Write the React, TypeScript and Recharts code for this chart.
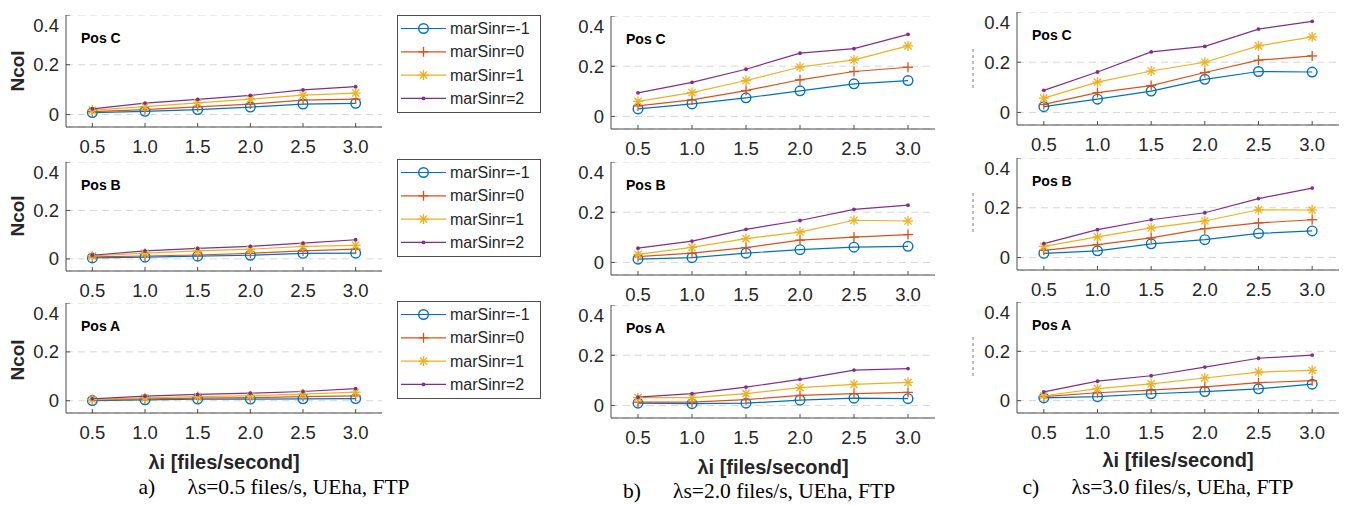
import React from "react"
import { LineChart, Line, XAxis, YAxis, CartesianGrid } from "recharts"

// x values shared by every panel
const LAMBDA_I = [0.5, 1.0, 1.5, 2.0, 2.5, 3.0]
const Y_TICKS = [0, 0.2, 0.4]
const SERIES_NAMES = ["marSinr=-1", "marSinr=0", "marSinr=1", "marSinr=2"]

// a) λs=0.5 files/s — rows: marSinr=-1, 0, 1, 2
const A_POS_C = [
  [0.008, 0.013, 0.020, 0.030, 0.042, 0.045],
  [0.012, 0.020, 0.031, 0.042, 0.058, 0.062],
  [0.018, 0.032, 0.047, 0.062, 0.078, 0.086],
  [0.023, 0.046, 0.061, 0.077, 0.099, 0.112],
]
const A_POS_B = [
  [0.004, 0.007, 0.011, 0.015, 0.023, 0.024],
  [0.008, 0.012, 0.016, 0.023, 0.033, 0.040],
  [0.012, 0.024, 0.033, 0.040, 0.052, 0.056],
  [0.015, 0.033, 0.043, 0.052, 0.065, 0.079],
]
const A_POS_A = [
  [0.001, 0.004, 0.007, 0.007, 0.008, 0.009],
  [0.004, 0.008, 0.011, 0.013, 0.017, 0.020],
  [0.005, 0.012, 0.017, 0.021, 0.027, 0.035],
  [0.008, 0.019, 0.026, 0.031, 0.038, 0.050],
]

// b) λs=2.0 files/s
const B_POS_C = [
  [0.030, 0.050, 0.074, 0.102, 0.130, 0.143],
  [0.042, 0.066, 0.103, 0.146, 0.179, 0.196],
  [0.060, 0.095, 0.143, 0.197, 0.225, 0.281],
  [0.094, 0.136, 0.188, 0.252, 0.270, 0.327],
]
const B_POS_B = [
  [0.013, 0.019, 0.037, 0.051, 0.061, 0.064],
  [0.023, 0.037, 0.059, 0.089, 0.101, 0.111],
  [0.032, 0.060, 0.095, 0.121, 0.168, 0.165],
  [0.057, 0.085, 0.132, 0.167, 0.211, 0.228],
]
const B_POS_A = [
  [0.009, 0.007, 0.009, 0.021, 0.029, 0.027],
  [0.013, 0.013, 0.023, 0.040, 0.047, 0.052],
  [0.031, 0.031, 0.047, 0.071, 0.084, 0.092],
  [0.033, 0.047, 0.073, 0.104, 0.141, 0.147],
]

// c) λs=3.0 files/s
const C_POS_C = [
  [0.023, 0.053, 0.085, 0.132, 0.163, 0.161],
  [0.032, 0.079, 0.107, 0.159, 0.208, 0.225],
  [0.057, 0.121, 0.165, 0.200, 0.265, 0.301],
  [0.088, 0.161, 0.241, 0.263, 0.332, 0.363],
]
const C_POS_B = [
  [0.017, 0.027, 0.055, 0.072, 0.097, 0.107],
  [0.029, 0.052, 0.079, 0.116, 0.139, 0.152],
  [0.045, 0.083, 0.119, 0.147, 0.192, 0.191],
  [0.056, 0.112, 0.152, 0.180, 0.237, 0.279],
]
const C_POS_A = [
  [0.011, 0.016, 0.028, 0.037, 0.048, 0.067],
  [0.016, 0.032, 0.043, 0.056, 0.073, 0.081],
  [0.020, 0.049, 0.068, 0.092, 0.116, 0.123],
  [0.036, 0.079, 0.101, 0.136, 0.172, 0.185],
]

const COLORS = ["#0072BD", "#D95319", "#EDB120", "#7E2F8E"]
const MARKERS = ["circle", "plus", "star", "dot"]

const SANS = "'Liberation Sans', Arial, sans-serif"
const SERIF = "'Liberation Serif', 'Times New Roman', serif"
const AXIS = "#4d4d4d"
const INK = "#262626"

function Marker({ kind, color, x, y }: { kind: string; color: string; x: number; y: number }) {
  if (kind === "circle")
    return <circle cx={x} cy={y} r={4.8} fill="none" stroke={color} strokeWidth={1.4} />
  if (kind === "plus")
    return (
      <g stroke={color} strokeWidth={1.3}>
        <line x1={x - 5} y1={y} x2={x + 5} y2={y} />
        <line x1={x} y1={y - 5} x2={x} y2={y + 5} />
      </g>
    )
  if (kind === "star")
    return (
      <g stroke={color} strokeWidth={1.3}>
        <line x1={x - 5} y1={y} x2={x + 5} y2={y} />
        <line x1={x} y1={y - 5} x2={x} y2={y + 5} />
        <line x1={x - 3.6} y1={y - 3.6} x2={x + 3.6} y2={y + 3.6} />
        <line x1={x - 3.6} y1={y + 3.6} x2={x + 3.6} y2={y - 3.6} />
      </g>
    )
  return <circle cx={x} cy={y} r={1.9} fill={color} />
}

const makeDot = (kind: string, color: string) => (p: any) =>
  <g key={`${kind}-${p.index}`}>
    {p.cx != null && p.cy != null ? <Marker kind={kind} color={color} x={p.cx} y={p.cy} /> : null}
  </g>

const YW = 56
const XH = 44

function Panel({ box, series, pos }: { box: number[]; series: number[][]; pos: string }) {
  const [l, t, r, b] = box
  const rows = LAMBDA_I.map((x, i) => ({ x, s0: series[0][i], s1: series[1][i], s2: series[2][i], s3: series[3][i] }))
  return (
    <>
      <div style={{ position: "absolute", left: l - YW, top: t }}>
        <LineChart width={r - l + YW} height={b - t + XH} data={rows} margin={{ top: 0, right: 0, bottom: 0, left: 0 }}>
          <CartesianGrid xAxisId="bottom" yAxisId="left" vertical={false} stroke="#d6d6d6" strokeDasharray="7 5" />
          <XAxis
            xAxisId="bottom" dataKey="x" type="number" domain={[0.25, 3.25]} ticks={LAMBDA_I}
            interval={0} height={XH} tickSize={-4} tickMargin={17}
            tickFormatter={(v: number) => v.toFixed(1)}
            tick={{ fontSize: 18.5, fill: INK, fontFamily: SANS }}
            axisLine={{ stroke: AXIS }} tickLine={{ stroke: AXIS }}
          />
          <XAxis
            xAxisId="top" orientation="top" dataKey="x" type="number" domain={[0.25, 3.25]} ticks={LAMBDA_I}
            height={0} tickSize={-4} tick={false} axisLine={{ stroke: AXIS }} tickLine={{ stroke: AXIS }}
          />
          <YAxis
            yAxisId="left" type="number" domain={[-0.05, 0.4]} ticks={Y_TICKS} width={YW}
            tickSize={-4} tickMargin={11}
            tick={{ fontSize: 18.5, fill: INK, fontFamily: SANS }}
            axisLine={{ stroke: AXIS }} tickLine={{ stroke: AXIS }}
          />
          <YAxis
            yAxisId="right" orientation="right" type="number" domain={[-0.05, 0.4]} ticks={Y_TICKS} width={0}
            tickSize={-4} tick={false} axisLine={{ stroke: AXIS }} tickLine={{ stroke: AXIS }}
          />
          {SERIES_NAMES.map((name, k) => (
            <Line
              key={name} name={name} xAxisId="bottom" yAxisId="left" dataKey={`s${k}`}
              stroke={COLORS[k]} strokeWidth={1.2} dot={makeDot(MARKERS[k], COLORS[k])}
              activeDot={false} isAnimationActive={false}
            />
          ))}
        </LineChart>
      </div>
      <div style={{ position: "absolute", left: l + 15, top: t + 14, fontFamily: SANS, fontWeight: 700, fontSize: 14, color: "#000", lineHeight: "18px" }}>
        {pos}
      </div>
    </>
  )
}

function LegendBox({ left, top }: { left: number; top: number }) {
  return (
    <svg style={{ position: "absolute", left, top }} width={144} height={98}>
      <rect x={0.5} y={0.5} width={143} height={97} fill="#fff" stroke={AXIS} />
      {SERIES_NAMES.map((name, k) => {
        const y = 13.5 + k * 23.3
        return (
          <g key={name}>
            <line x1={4} y1={y} x2={49} y2={y} stroke={COLORS[k]} strokeWidth={1.2} />
            <Marker kind={MARKERS[k]} color={COLORS[k]} x={26.5} y={y} />
            <text x={53} y={y} dy="0.35em" fontSize={16} fill={INK} fontFamily={SANS}>{name}</text>
          </g>
        )
      })}
    </svg>
  )
}

function Ncol({ cy }: { cy: number }) {
  return (
    <div style={{
      position: "absolute", left: 18 - 30, top: cy - 12, width: 60, height: 24, textAlign: "center",
      transform: "rotate(-90deg)", fontFamily: SANS, fontWeight: 700, fontSize: 19, lineHeight: "24px", color: INK,
    }}>Ncol</div>
  )
}

function Text({ cx, cy, children, style }: { cx: number; cy: number; children: React.ReactNode; style: React.CSSProperties }) {
  return (
    <div style={{ position: "absolute", left: cx - 200, top: cy - 14, width: 400, height: 28, lineHeight: "28px", textAlign: "center", whiteSpace: "pre", ...style }}>
      {children}
    </div>
  )
}

const BOXES = {
  a: [[66, 15, 382, 127], [66, 162, 382, 271], [66, 303, 382, 413]],
  b: [[611, 16, 935, 129], [611, 162, 935, 275], [611, 305, 935, 418]],
  c: [[1017, 12, 1339, 125], [1017, 158, 1339, 270], [1017, 302, 1339, 413]],
}

export default function App() {
  const title = { fontFamily: SANS, fontWeight: 700, fontSize: 20, color: INK }
  const cap = { fontFamily: SERIF, fontSize: 21.5, color: "#000" }
  return (
    <div style={{ position: "absolute", left: 0, top: 0, width: 1346, height: 505, background: "#fff", overflow: "hidden" }}>
      <Panel box={BOXES.a[0]} series={A_POS_C} pos="Pos C" />
      <Panel box={BOXES.a[1]} series={A_POS_B} pos="Pos B" />
      <Panel box={BOXES.a[2]} series={A_POS_A} pos="Pos A" />
      <Panel box={BOXES.b[0]} series={B_POS_C} pos="Pos C" />
      <Panel box={BOXES.b[1]} series={B_POS_B} pos="Pos B" />
      <Panel box={BOXES.b[2]} series={B_POS_A} pos="Pos A" />
      <Panel box={BOXES.c[0]} series={C_POS_C} pos="Pos C" />
      <Panel box={BOXES.c[1]} series={C_POS_B} pos="Pos B" />
      <Panel box={BOXES.c[2]} series={C_POS_A} pos="Pos A" />

      <LegendBox left={397} top={15} />
      <LegendBox left={397} top={159} />
      <LegendBox left={397} top={301} />

      <Ncol cy={71} />
      <Ncol cy={216} />
      <Ncol cy={360} />

      <svg style={{ position: "absolute", left: 970, top: 0 }} width={6} height={400}>
        {[[49, 90], [193, 235], [337, 378]].map(([y1, y2]) => (
          <line key={y1} x1={3} y1={y1} x2={3} y2={y2} stroke="#777" strokeDasharray="3 3" />
        ))}
      </svg>

      <Text cx={224} cy={462} style={title}>λi [files/second]</Text>
      <Text cx={773} cy={467} style={title}>λi [files/second]</Text>
      <Text cx={1178} cy={460} style={title}>λi [files/second]</Text>

      <Text cx={274} cy={487} style={cap}>{"a)      λs=0.5 files/s, UEha, FTP"}</Text>
      <Text cx={759} cy={491} style={cap}>{"b)      λs=2.0 files/s, UEha, FTP"}</Text>
      <Text cx={1158} cy={487} style={cap}>{"c)      λs=3.0 files/s, UEha, FTP"}</Text>
    </div>
  )
}
